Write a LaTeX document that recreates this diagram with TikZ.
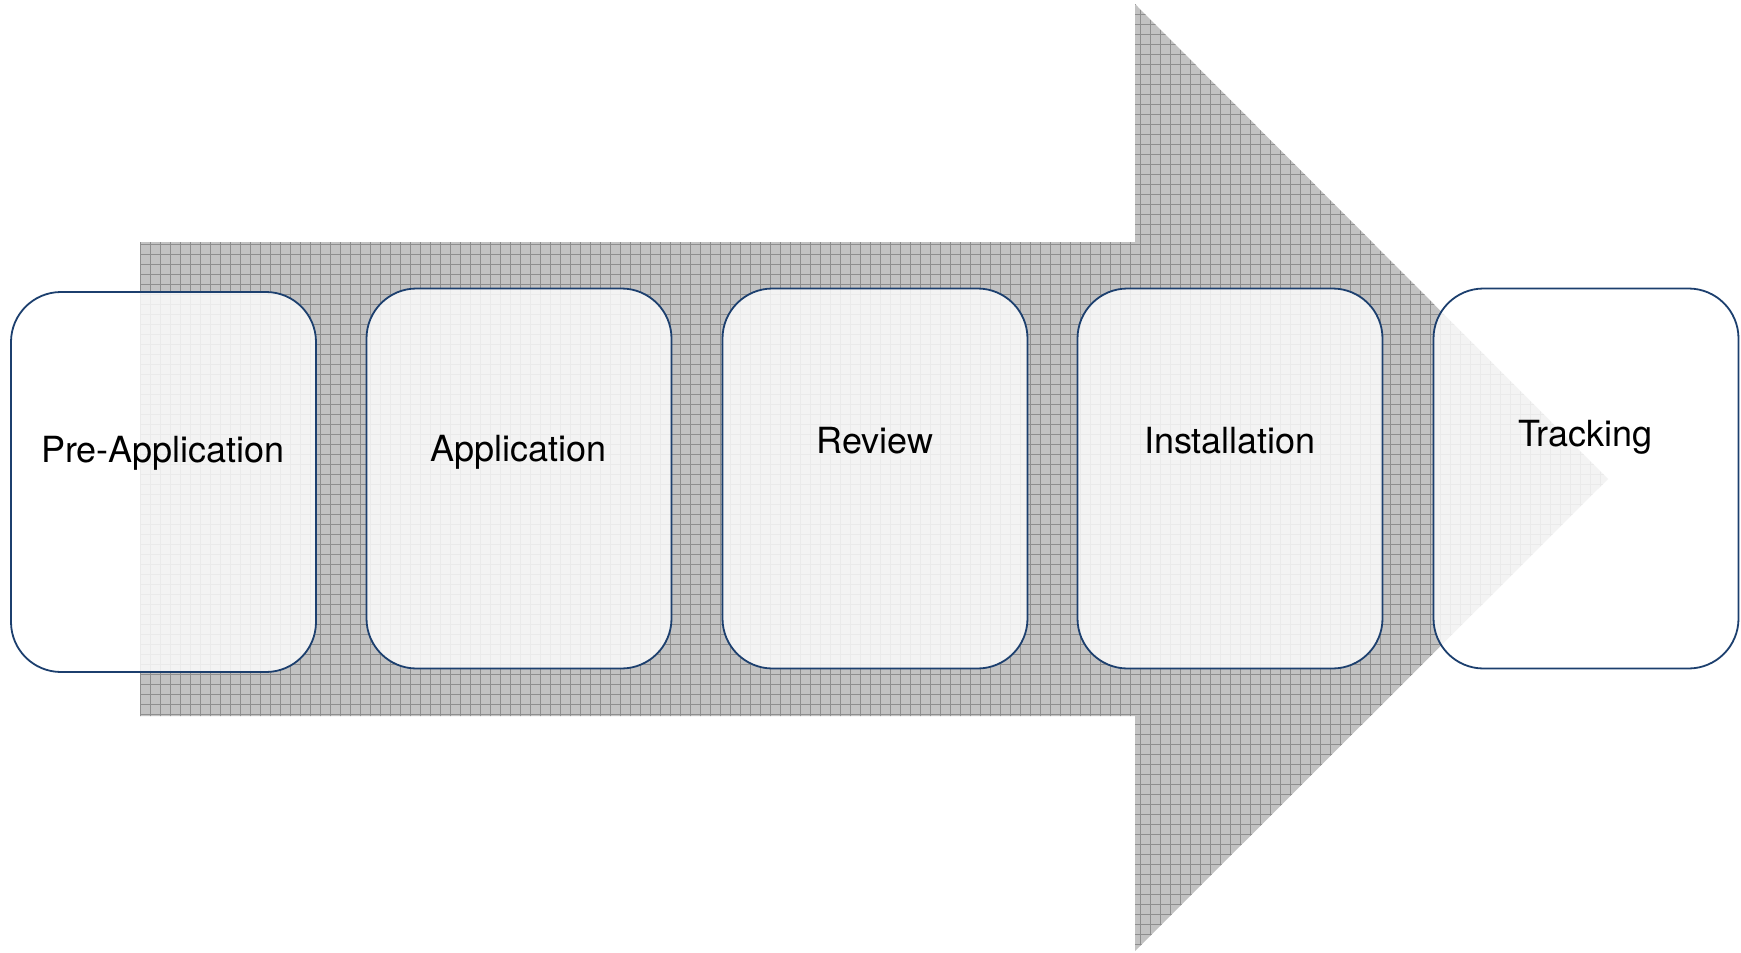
\documentclass[tikz,border=0pt]{standalone}
\usepackage{fontspec}
\setmainfont{TeX Gyre Heros}
\definecolor{arrowgray}{HTML}{C2C2C2}
\definecolor{gridgray}{HTML}{8E8E8E}
\definecolor{boxnavy}{HTML}{1C3F6E}
\begin{document}
\begin{tikzpicture}[x=1pt,y=-1pt,
  stagebox/.style={draw=boxnavy, line width=1.8pt, rounded corners=50pt,
    fill=white, fill opacity=0.82, draw opacity=1,
    minimum width=305pt, minimum height=380pt, inner sep=0pt},
  stagelabel/.style={anchor=base, font=\fontsize{36pt}{40pt}\selectfont, text=black, inner sep=0pt}]
\useasboundingbox (0,0) rectangle (1741,953);
% arrow
\coordinate (s1) at (140,242);
\coordinate (s2) at (1135,242);
\coordinate (h1) at (1135,4);
\coordinate (tip) at (1608,479);
\coordinate (h2) at (1135,951);
\coordinate (s3) at (1135,716);
\coordinate (s4) at (140,716);
\fill[arrowgray] (s1) -- (s2) -- (h1) -- (tip) -- (h2) -- (s3) -- (s4) -- cycle;
\begin{scope}
  \clip (s1) -- (s2) -- (h1) -- (tip) -- (h2) -- (s3) -- (s4) -- cycle;
  \foreach \gx in {140,150,...,1610} {\draw[gridgray, line width=0.8pt] (\gx,0) -- (\gx,953);}
  \foreach \gy in {4,14,...,954} {\draw[gridgray, line width=0.8pt] (140,\gy) -- (1610,\gy);}
\end{scope}
% boxes
\node[stagebox] (b1) at (163.5,482) {};
\node[stagebox] (b2) at (519,478.5) {};
\node[stagebox] (b3) at (875,478.5) {};
\node[stagebox] (b4) at (1230,478.5) {};
\node[stagebox] (b5) at (1586,478.5) {};
% labels
\node[stagelabel] (t1) at (163,462.7) {Pre-Application};
\node[stagelabel] (t2) at (518.5,461.7) {Application};
\node[stagelabel] (t3) at (875,453.3) {Review};
\node[stagelabel] (t4) at (1230,453.3) {Installation};
\node[stagelabel] (t5) at (1585.5,446.7) {Tracking};
\end{tikzpicture}
\end{document}
